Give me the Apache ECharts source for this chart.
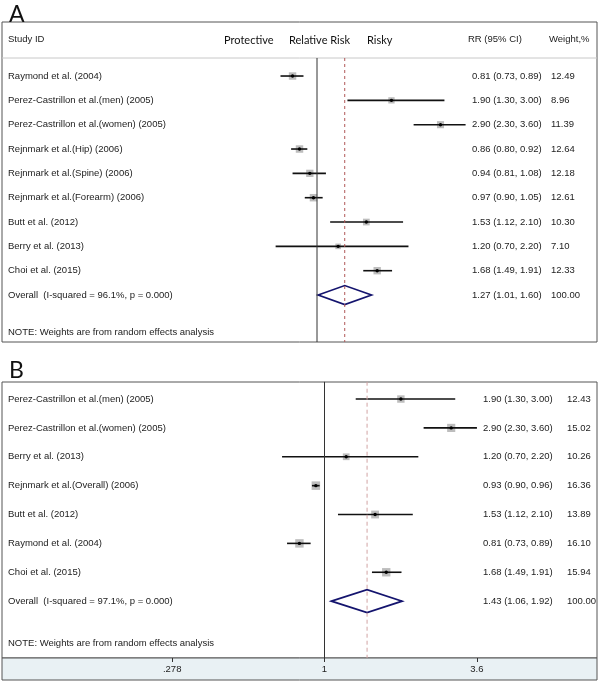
<!DOCTYPE html>
<html>
<head>
<meta charset="utf-8">
<script src="https://cdn.jsdelivr.net/npm/echarts@6/dist/echarts.min.js"></script>
<style>html,body{margin:0;padding:0;background:#fff}#c{width:600px;height:681px}</style>
</head>
<body>
<div id="c"></div>
<script>
// ---------- Panel A data ----------
const studiesA = ['Raymond et al. (2004)','Perez-Castrillon et al.(men) (2005)','Perez-Castrillon et al.(women) (2005)','Rejnmark et al.(Hip) (2006)','Rejnmark et al.(Spine) (2006)','Rejnmark et al.(Forearm) (2006)','Butt et al. (2012)','Berry et al. (2013)','Choi et al. (2015)'];
const rrA = [0.81, 1.90, 2.90, 0.86, 0.94, 0.97, 1.53, 1.20, 1.68];
const loA = [0.73, 1.30, 2.30, 0.80, 0.81, 0.90, 1.12, 0.70, 1.49];
const hiA = [0.89, 3.00, 3.60, 0.92, 1.08, 1.05, 2.10, 2.20, 1.91];
const wA  = ['12.49','8.96','11.39','12.64','12.18','12.61','10.30','7.10','12.33'];
const overallA = [1.27, 1.01, 1.60];
const overallLabelA = 'Overall  (I-squared = 96.1%, p = 0.000)';

// ---------- Panel B data ----------
const studiesB = ['Perez-Castrillon et al.(men) (2005)','Perez-Castrillon et al.(women) (2005)','Berry et al. (2013)','Rejnmark et al.(Overall) (2006)','Butt et al. (2012)','Raymond et al. (2004)','Choi et al. (2015)'];
const rrB = [1.90, 2.90, 1.20, 0.93, 1.53, 0.81, 1.68];
const loB = [1.30, 2.30, 0.70, 0.90, 1.12, 0.73, 1.49];
const hiB = [3.00, 3.60, 2.20, 0.96, 2.10, 0.89, 1.91];
const wB  = ['12.43','15.02','10.26','16.36','13.89','16.10','15.94'];
const overallB = [1.43, 1.06, 1.92];
const overallLabelB = 'Overall  (I-squared = 97.1%, p = 0.000)';

const noteText = 'NOTE: Weights are from random effects analysis';
const tickValues = [0.278, 1, 3.6];
const tickLabels = ['.278', '1', '3.6'];

// ---------- layout ----------
const GL = 2, GW = 595;
// log-axis extents (pixel calibration)
const minA = Math.exp(-315 / 116), maxA = Math.exp(280 / 116);
const minB = Math.exp(-322.5 / 119), maxB = Math.exp(272.5 / 119);
const F = 'Liberation Sans, Arial, sans-serif';
const FH = 'Lato, Open Sans, sans-serif';

function fmt(rr, lo, hi) {
  return rr.toFixed(2) + ' (' + lo.toFixed(2) + ', ' + hi.toFixed(2) + ')';
}

function forestSeries(xi, yi, rr, lo, hi, w) {
  const data = rr.map((v, i) => [v, lo[i], hi[i], parseFloat(w[i]), i]);
  return {
    type: 'custom', xAxisIndex: xi, yAxisIndex: yi, data: data,
    encode: { x: [0, 1, 2], y: 4 },
    renderItem: function (params, api) {
      const row = api.value(4);
      const c = api.coord([api.value(0), row]);
      const l = api.coord([api.value(1), row]);
      const h = api.coord([api.value(2), row]);
      const s = 2.1 * Math.sqrt(api.value(3));
      return {
        type: 'group', children: [
          { type: 'rect', shape: { x: c[0] - s / 2, y: c[1] - s / 2, width: s, height: s }, style: { fill: '#bdbdbd' } },
          { type: 'line', shape: { x1: l[0], y1: l[1], x2: h[0], y2: h[1] }, style: { stroke: '#111', lineWidth: 1.6 } },
          { type: 'circle', shape: { cx: c[0], cy: c[1], r: 1.7 }, style: { fill: '#000' } }
        ]
      };
    }
  };
}

function diamondSeries(xi, yi, ov, row, hh) {
  return {
    type: 'custom', xAxisIndex: xi, yAxisIndex: yi,
    data: [[ov[0], ov[1], ov[2], row]],
    encode: { x: [0, 1, 2], y: 3 },
    renderItem: function (params, api) {
      const r = api.value(3);
      const c = api.coord([api.value(0), r]);
      const l = api.coord([api.value(1), r]);
      const h = api.coord([api.value(2), r]);
      return {
        type: 'polygon',
        shape: { points: [[l[0], c[1]], [c[0], c[1] - hh], [h[0], c[1]], [c[0], c[1] + hh]] },
        style: { fill: 'none', stroke: '#14146e', lineWidth: 1.7 }
      };
    }
  };
}

function textSeries(xi, yi, items) {
  return {
    type: 'custom', xAxisIndex: xi, yAxisIndex: yi, data: items,
    encode: { x: 0, y: 1 },
    renderItem: function (params, api) {
      const it = items[params.dataIndex];
      const p = api.coord([it[0], it[1]]);
      return {
        type: 'text', x: p[0], y: p[1],
        style: { text: it[2], font: it[3] || ('9.5px ' + F), fill: it[4] || '#222', align: 'left', verticalAlign: 'middle' }
      };
    }
  };
}

function vline(xi, yi, x, y0, y1, color, type) {
  return {
    type: 'line', xAxisIndex: xi, yAxisIndex: yi, data: [[x, y0], [x, y1]],
    symbol: 'none', silent: true,
    lineStyle: { color: color, width: 1, type: type || 'solid' }
  };
}

// text rows (x in px from grid left, y in row units)
const txtA = [];
studiesA.forEach((s, i) => {
  txtA.push([6, i, s]);
  txtA.push([470, i, fmt(rrA[i], loA[i], hiA[i])]);
  txtA.push([549, i, wA[i]]);
});
txtA.push([6, 9, overallLabelA]);
txtA.push([470, 9, fmt(overallA[0], overallA[1], overallA[2])]);
txtA.push([549, 9, '100.00']);
txtA.push([6, 10.52, noteText]);
txtA.push([6, -1.5, 'Study ID']);
txtA.push([466, -1.5, 'RR (95% CI)']);
txtA.push([547, -1.5, 'Weight,%']);
txtA.push([222, -1.45, 'Protective', '11px ' + FH, '#111']);
txtA.push([287, -1.45, 'Relative Risk', '11px ' + FH, '#111']);
txtA.push([365, -1.45, 'Risky', '11px ' + FH, '#111']);

const txtB = [];
studiesB.forEach((s, i) => {
  txtB.push([6, i, s]);
  txtB.push([481, i, fmt(rrB[i], loB[i], hiB[i])]);
  txtB.push([565, i, wB[i]]);
});
txtB.push([6, 7, overallLabelB]);
txtB.push([481, 7, fmt(overallB[0], overallB[1], overallB[2])]);
txtB.push([565, 7, '100.00']);
txtB.push([6, 8.45, noteText]);

const yA = [-0.74, 10.93];
const yB = [-0.6, 8.97];

function tickFmt(v) {
  let best = 0, bd = Infinity;
  tickValues.forEach((t, i) => { const d = Math.abs(Math.log(t) - Math.log(v)); if (d < bd) { bd = d; best = i; } });
  return tickLabels[best];
}

const option = {
  animation: false,
  backgroundColor: '#fff',
  title: [
    { text: 'A', left: 9, top: 3, padding: 0, textStyle: { fontSize: 23, fontWeight: 'normal', fontFamily: FH, color: '#111' } },
    { text: 'B', left: 9, top: 359, padding: 0, textStyle: { fontSize: 23, fontWeight: 'normal', fontFamily: FH, color: '#111' } }
  ],
  grid: [
    { left: GL, top: 22, width: GW, height: 320, show: true, borderColor: '#555', borderWidth: 1, backgroundColor: '#fff' },
    { left: GL, top: 382, width: GW, height: 276, show: true, borderColor: '#555', borderWidth: 1, backgroundColor: '#fff' },
    { left: GL, top: 658, width: GW, height: 22, show: true, borderColor: '#555', borderWidth: 1, backgroundColor: '#e9f1f4' }
  ],
  xAxis: [
    { type: 'log', logBase: Math.E, gridIndex: 0, min: minA, max: maxA, show: false },
    { type: 'value', gridIndex: 0, min: 0, max: GW, show: false },
    { type: 'log', logBase: Math.E, gridIndex: 1, min: minB, max: maxB, show: false },
    { type: 'value', gridIndex: 1, min: 0, max: GW, show: false },
    {
      type: 'log', logBase: Math.E, gridIndex: 2, min: minB, max: maxB, position: 'top',
      axisLine: { show: false, onZero: false }, splitLine: { show: false },
      axisTick: { show: true, inside: true, length: 4, customValues: tickValues, lineStyle: { color: '#333' } },
      axisLabel: { show: true, inside: true, margin: 6, customValues: tickValues, formatter: tickFmt, fontSize: 9.5, fontFamily: F, color: '#222' },
      minorTick: { show: false }
    }
  ],
  yAxis: [
    { type: 'value', gridIndex: 0, inverse: true, min: -2.22, max: 10.93, show: false },
    { type: 'value', gridIndex: 1, inverse: true, min: -0.59, max: 8.97, show: false },
    { type: 'value', gridIndex: 2, min: 0, max: 1, show: false }
  ],
  series: [
    { type: 'line', xAxisIndex: 1, yAxisIndex: 0, data: [[0, -0.74], [GW, -0.74]], symbol: 'none', silent: true, lineStyle: { color: '#c8c8c8', width: 1 } },
    vline(0, 0, 1, yA[0], yA[1], '#333'),
    vline(0, 0, overallA[0], yA[0], yA[1], '#b05858', [3, 3]),
    forestSeries(0, 0, rrA, loA, hiA, wA),
    diamondSeries(0, 0, overallA, 9, 9.5),
    textSeries(1, 0, txtA),
    vline(2, 1, 1, yB[0], yB[1], '#333'),
    vline(2, 1, overallB[0], yB[0], yB[1], '#d2a4a4', [4, 3]),
    forestSeries(2, 1, rrB, loB, hiB, wB),
    diamondSeries(2, 1, overallB, 7, 11.5),
    textSeries(3, 1, txtB)
  ]
};

const chart = echarts.init(document.getElementById('c'), null, { renderer: 'canvas' });
chart.setOption(option);
</script>
</body>
</html>
